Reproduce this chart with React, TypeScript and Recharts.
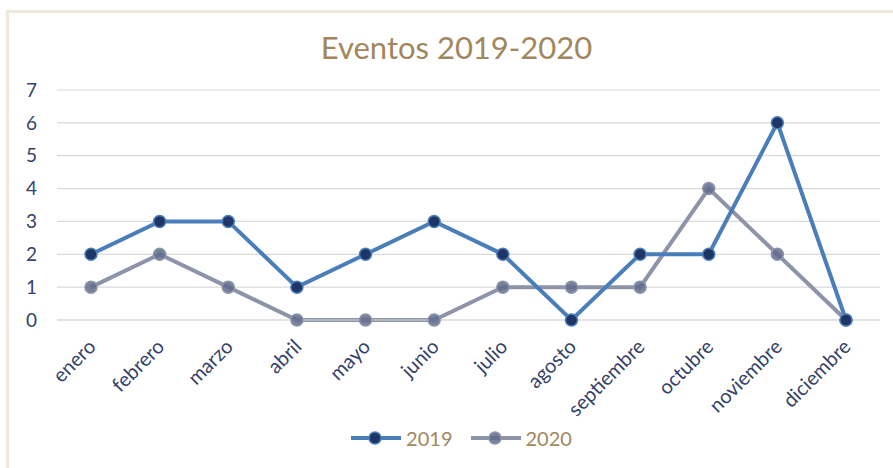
import React from 'react';
import { LineChart, Line, XAxis, YAxis, CartesianGrid, Legend } from 'recharts';

const months = ['enero', 'febrero', 'marzo', 'abril', 'mayo', 'junio', 'julio', 'agosto', 'septiembre', 'octubre', 'noviembre', 'diciembre'];
const events2019 = [2, 3, 3, 1, 2, 3, 2, 0, 2, 2, 6, 0];
const events2020 = [1, 2, 1, 0, 0, 0, 1, 1, 1, 4, 2, 0];
const yTicks = [0, 1, 2, 3, 4, 5, 6, 7];
const title = 'Eventos 2019-2020';

const data = months.map((m, i) => ({ month: m, '2019': events2019[i], '2020': events2020[i] }));

const FONT = 'Lato, "Open Sans", sans-serif';
const TICK_COLOR = '#34426B';
const TAN = '#A2865E';
const C2019 = '#4A7EBB';
const C2019_DOT = '#1F3566';
const C2020 = '#8E94A8';
const C2020_DOT = '#5E6B8C';

const XTick = (props: any) => {
  const { x, y, payload } = props;
  return (
    <g transform={`translate(${x + 6},${y + 20})`}>
      <text x={0} y={0} textAnchor="end" transform="rotate(-45)" fill={TICK_COLOR} fontSize={20} fontFamily={FONT}>
        {payload.value}
      </text>
    </g>
  );
};

const renderLegend = () => {
  const items = [
    { name: '2019', line: C2019, dot: C2019_DOT, stroke: C2019, op: 1 },
    { name: '2020', line: C2020, dot: C2020_DOT, stroke: C2020, op: 0.85 },
  ];
  return (
    <div style={{ display: 'flex', justifyContent: 'center', alignItems: 'center', paddingLeft: 30, gap: 18 }}>
      {items.map((it) => (
        <div key={it.name} style={{ display: 'flex', alignItems: 'center' }}>
          <svg width={50} height={16}>
            <line x1={0} y1={8} x2={50} y2={8} stroke={it.line} strokeWidth={4} />
            <circle cx={24} cy={8} r={6} fill={it.dot} stroke={it.stroke} strokeWidth={1.5} fillOpacity={it.op} />
          </svg>
          <span style={{ marginLeft: 5, color: TAN, fontSize: 20, fontFamily: FONT }}>{it.name}</span>
        </div>
      ))}
    </div>
  );
};

export default function App() {
  return (
    <div style={{ position: 'absolute', left: 0, top: 0, width: 893, height: 468, background: '#fff', overflow: 'hidden' }}>
      <div
        style={{
          position: 'absolute',
          left: 6,
          top: 10,
          width: 900,
          height: 470,
          borderLeft: '3px solid #EEE8DC',
          borderTop: '3px solid #EEE8DC',
        }}
      />
      <div
        style={{
          position: 'absolute',
          left: 0,
          width: 913,
          top: 27,
          textAlign: 'center',
          fontFamily: FONT,
          fontSize: 31,
          color: TAN,
          lineHeight: '40px',
        }}
      >
        {title}
      </div>
      <div style={{ position: 'absolute', left: 0, top: 0 }}>
        <LineChart width={893} height={468} data={data} margin={{ top: 90, right: 13, bottom: 12, left: 0 }}>
          <CartesianGrid vertical={false} stroke="#D9D9D9" strokeWidth={1.2} />
          <XAxis
            dataKey="month"
            axisLine={{ stroke: '#D9D9D9' }}
            tickLine={false}
            interval={0}
            height={106}
            padding={{ left: 34, right: 34 }}
            tick={<XTick />}
          />
          <YAxis
            domain={[0, 7]}
            ticks={yTicks}
            axisLine={false}
            tickLine={false}
            tickSize={0}
            tickMargin={20}
            width={57}
            tick={{ fill: TICK_COLOR, fontSize: 19, fontFamily: FONT }}
          />
          <Legend verticalAlign="bottom" height={30} content={renderLegend} wrapperStyle={{ left: 0, width: 893 }} />
          <Line
            dataKey="2020"
            stroke={C2020}
            strokeWidth={4}
            isAnimationActive={false}
            dot={{ r: 6, fill: C2020_DOT, stroke: C2020, strokeWidth: 1.5, fillOpacity: 0.85 }}
          />
          <Line
            dataKey="2019"
            stroke={C2019}
            strokeWidth={4}
            isAnimationActive={false}
            dot={{ r: 6, fill: C2019_DOT, stroke: C2019, strokeWidth: 1.5, fillOpacity: 1 }}
          />
        </LineChart>
      </div>
    </div>
  );
}
